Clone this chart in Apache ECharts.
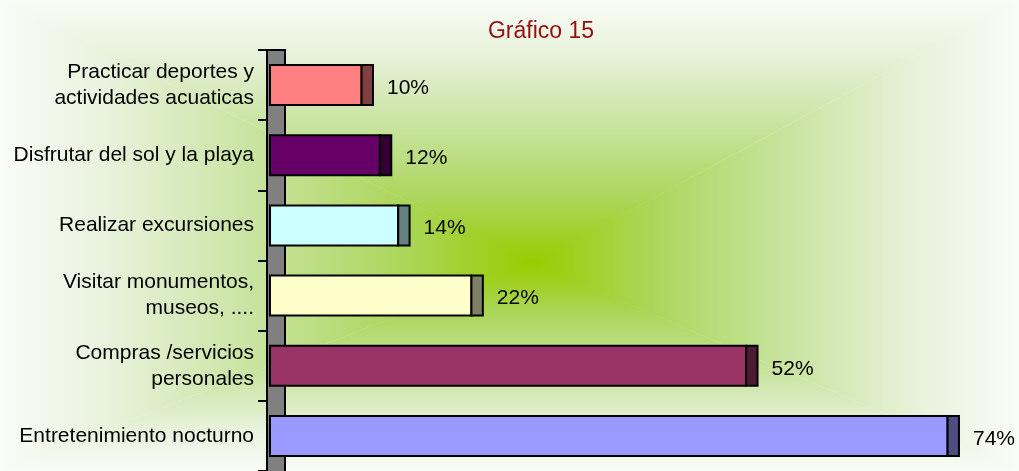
<!DOCTYPE html>
<html>
<head>
<meta charset="utf-8">
<script src="https://cdn.jsdelivr.net/npm/echarts@6/dist/echarts.min.js"></script>
<style>
  html, body { margin: 0; padding: 0; background: #fff; }
  #chart { width: 1019px; height: 471px; }
</style>
</head>
<body>
<div id="chart"></div>
<script>
// data
var categories = [
  'Practicar deportes y\nactividades acuaticas',
  'Disfrutar del sol y la playa',
  'Realizar excursiones',
  'Visitar monumentos,\nmuseos, ....',
  'Compras /servicios\npersonales',
  'Entretenimiento nocturno'
];
var percentages = [10, 12, 14, 22, 52, 74];

// bar colours (front face, side face)
var faceColors = ['#ff8080', '#660066', '#ccffff', '#ffffcc', '#993366', '#9999ff'];
var sideColors = ['#804040', '#330033', '#668080', '#808066', '#4d1a33', '#4d4d80'];

var W = 1019, H = 471;
var cx = 533, cy = 263;   // centre of the background gradient
var depth = 11.4;         // 3d depth of the bars

var stops = [
  {offset: 0, color: '#99cc00'},
  {offset: 0.25, color: '#acd65c'},
  {offset: 0.55, color: '#cbe5a6'},
  {offset: 0.8, color: '#e8f2dc'},
  {offset: 1, color: '#fafcf7'}
];
function grad(x, y, x2, y2){
  return new echarts.graphic.LinearGradient(x, y, x2, y2, stops);
}

var chartmodel = document.getElementById('chart');
var myChart = echarts.init(chartmodel);

function renderItem(params, api){
  var i = params.dataIndex;
  var v = api.value(0);
  var c = api.value(1);
  var end = api.coord([v, c]);
  var start = api.coord([0, c]);
  var band = api.size([0, 1])[1];
  var h = band * 0.57;
  var y = end[1] - h / 2;
  return {
    type: 'group',
    children: [
      {type: 'rect', shape: {x: start[0] - depth, y: y, width: end[0] - start[0], height: h},
       style: {fill: faceColors[i], stroke: '#000', lineWidth: 2}},
      {type: 'rect', shape: {x: end[0] - depth, y: y, width: depth, height: h},
       style: {fill: sideColors[i], stroke: '#000', lineWidth: 2}},
      {type: 'text', style: {text: v + '%', x: end[0] + 14, y: end[1] + 3,
        align: 'left', verticalAlign: 'middle', fill: '#000',
        font: '21px "Liberation Sans", Arial, sans-serif'}}
    ]
  };
}

var option = {
  animation: false,
  title: {
    text: 'Gráfico 15',
    left: 536,
    top: 15,
    textAlign: 'center',
    textStyle: {color: '#940f0f', fontSize: 23, fontWeight: 'normal', fontFamily: '"Liberation Sans", Arial, sans-serif'}
  },
  grid: {left: 281.4, width: 732.5, top: 50, height: 428, containLabel: false},
  xAxis: {type: 'value', min: 0, max: 80, show: false},
  yAxis: {
    type: 'category',
    data: categories,
    inverse: true,
    offset: 14.4,
    z: 10,
    axisLine: {show: true, onZero: false, lineStyle: {color: '#000', width: 2}},
    axisTick: {show: true, length: 9, lineStyle: {color: '#000', width: 2}},
    axisLabel: {
      margin: 13,
      color: '#000',
      fontSize: 21,
      lineHeight: 26,
      align: 'right',
      fontFamily: '"Liberation Sans", Arial, sans-serif'
    },
    splitLine: {show: false}
  },
  series: [{
    type: 'custom',
    renderItem: renderItem,
    encode: {x: 0, y: 1},
    data: percentages.map(function(v, i){ return [v, i]; }),
    z: 15
  }],
  graphic: [
    {type: 'rect', z: -20, silent: true, shape: {x: 0, y: 0, width: W, height: H},
     style: {fill: new echarts.graphic.RadialGradient(cx / W, cy / H, 0.55, stops)}},
    {type: 'polygon', z: -10, silent: true, shape: {points: [[0, 0], [W, 0], [cx, cy]]}, style: {fill: grad(0, 1, 0, 0)}},
    {type: 'polygon', z: -10, silent: true, shape: {points: [[0, 0], [cx, cy], [0, H]]}, style: {fill: grad(1, 0, 0, 0)}},
    {type: 'polygon', z: -10, silent: true, shape: {points: [[W, 0], [W, H], [cx, cy]]}, style: {fill: grad(0, 0, 1, 0)}},
    {type: 'polygon', z: -10, silent: true, shape: {points: [[0, H], [cx, cy], [W, H]]}, style: {fill: grad(0, 0, 0, 1)}},
    // gray axis wall
    {type: 'rect', z: -5, silent: true, shape: {x: 267, y: 50, width: 18, height: 440},
     style: {fill: '#808080', stroke: '#000', lineWidth: 2}}
  ]
};
myChart.setOption(option);
</script>
</body>
</html>
